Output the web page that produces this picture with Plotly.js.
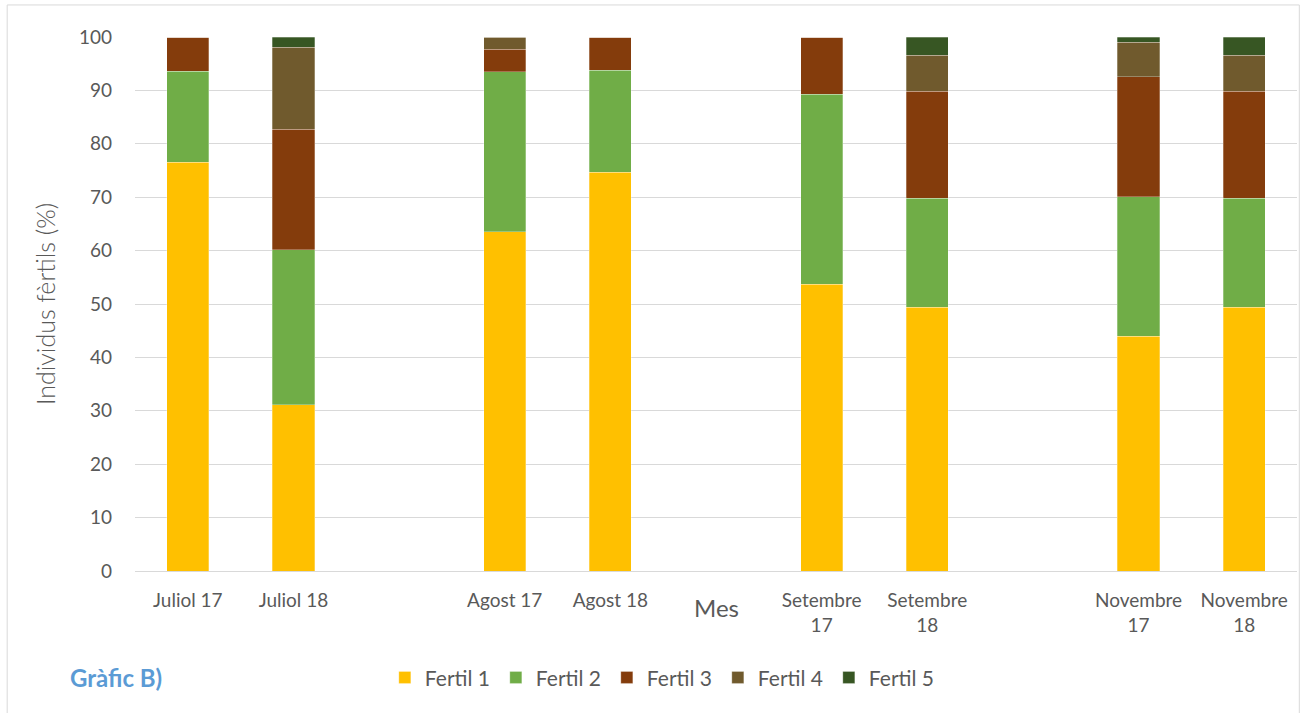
<!DOCTYPE html>
<html>
<head>
<meta charset="utf-8">
<script src="https://cdn.plot.ly/plotly-3.0.1.min.js"></script>
<style>html,body{margin:0;padding:0;background:#fff;}#chart{width:1304px;height:713px;}</style>
</head>
<body>
<div id="chart"></div>
<script>
const categories = ["Juliol 17","Juliol 18"," ","Agost 17","Agost 18","  ","Setembre<br>17","Setembre<br>18","   ","Novembre<br>17","Novembre<br>18"];
const seriesNames = ["Fertil 1","Fertil 2","Fertil 3","Fertil 4","Fertil 5"];
const fertil1 = [76.5, 31.1, null, 63.5, 74.7, null, 53.7, 49.4, null, 44.0, 49.4];
const fertil2 = [17.1, 29.1, null, 30.0, 19.1, null, 35.6, 20.4, null, 26.1, 20.4];
const fertil3 = [6.4, 22.5, null, 4.2, 6.2, null, 10.7, 20.0, null, 22.5, 20.0];
const fertil4 = [0, 15.4, null, 2.3, 0, null, 0, 6.8, null, 6.4, 6.8];
const fertil5 = [0, 1.9, null, 0, 0, null, 0, 3.4, null, 1.0, 3.4];
const colors = ["#FFC000","#70AD47","#843C0C","#705A2D","#375623"];
const yTicks = [0,10,20,30,40,50,60,70,80,90,100];

const all = [fertil1, fertil2, fertil3, fertil4, fertil5];
const traces = all.map((vals, i) => ({
  type: "bar",
  name: seriesNames[i],
  x: categories,
  y: vals,
  width: 0.4,
  marker: {color: colors[i], line: {color: "rgba(255,255,255,0.35)", width: 0.8}},
  hoverinfo: "x+y+name"
}));

const font = "Lato, 'Open Sans', sans-serif";
const layout = {
  width: 1304, height: 713,
  paper_bgcolor: "#fff", plot_bgcolor: "#fff",
  barmode: "stack",
  margin: {l: 135, r: 7, t: 37, b: 142},
  font: {family: font, color: "#595959", size: 18},
  xaxis: {
    type: "category",
    categoryorder: "array", categoryarray: categories,
    showgrid: false, zeroline: false,
    showline: true, linecolor: "#D9D9D9", linewidth: 1,
    ticks: "", ticklabelstandoff: 12,
    tickfont: {family: font, size: 19, color: "#595959"},
    fixedrange: true
  },
  yaxis: {
    range: [0, 100], tickvals: yTicks,
    showgrid: true, gridcolor: "#D9D9D9", gridwidth: 1,
    zeroline: false, showline: false, ticks: "",
    ticklabelstandoff: 22,
    tickfont: {family: font, size: 19, color: "#595959"},
    title: {text: "Individus fèrtils (%)", font: {family: font, size: 25, weight: 300, color: "#595959"}, standoff: 16},
    fixedrange: true
  },
  showlegend: true,
  legend: {
    orientation: "h", x: 0.215, xanchor: "left", y: -0.2, yanchor: "middle",
    font: {family: font, size: 21, color: "#595959"},
    traceorder: "normal", entrywidth: 66, entrywidthmode: "pixels",
    itemclick: false, itemdoubleclick: false
  },
  annotations: [
    {text: "Mes", xref: "paper", yref: "paper", x: 0.5, y: -0.068, xanchor: "center", yanchor: "middle",
     showarrow: false, font: {family: font, size: 24, color: "#595959"}},
    {text: "<b>Gràfic B)</b>", xref: "paper", yref: "paper", x: -0.058, y: -0.2, xanchor: "left", yanchor: "middle",
     showarrow: false, font: {family: font, size: 24, color: "#5B9BD5"}}
  ],
  shapes: [
    {type: "rect", xref: "paper", yref: "paper", x0: -0.11, x1: 1.002, y0: -0.284, y1: 1.06,
     line: {color: "#D9D9D9", width: 1}, fillcolor: "rgba(0,0,0,0)", layer: "below"}
  ]
};

Plotly.newPlot("chart", traces, layout, {displayModeBar: false, staticPlot: false});
</script>
</body>
</html>
